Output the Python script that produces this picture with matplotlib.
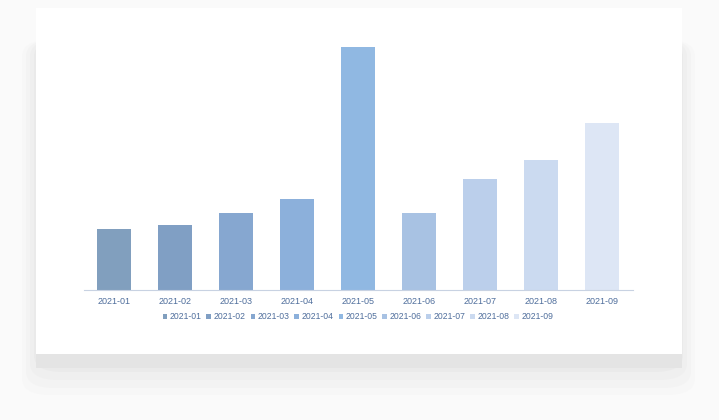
import matplotlib.pyplot as plt
from matplotlib.patches import FancyBboxPatch, Rectangle

plt.rcParams['font.family'] = ['Liberation Sans', 'DejaVu Sans']

months = ['2021-01', '2021-02', '2021-03', '2021-04', '2021-05',
          '2021-06', '2021-07', '2021-08', '2021-09']
values = [61, 65, 77, 91, 243, 77, 111, 130, 167]
colors = ['#819fbe', '#809fc4', '#86a7d0', '#8cb0db', '#90b8e2',
          '#a8c2e3', '#bbcfeb', '#cbdaf0', '#dde6f5']

W, H = 719, 420
fig = plt.figure(figsize=(W / 100, H / 100), dpi=100)
fig.patch.set_facecolor('#fafafa')

# soft shadow round the card
layers = [(22, 395, '#f7f7f7'), (26, 388, '#f3f3f3'), (30, 380, '#efefef'), (34, 372, '#eaeaea')]
for left, bottom, c in layers:
    fig.patches.append(FancyBboxPatch((left / W, 1 - bottom / H),
                                      (W - 2 * left - 2) / W, (bottom - 40) / H,
                                      boxstyle='round,pad=0,rounding_size=0.04',
                                      transform=fig.transFigure, facecolor=c,
                                      edgecolor='none', zorder=-3))
fig.patches.append(Rectangle((36 / W, 1 - 368 / H), 646 / W, 30 / H,
                             transform=fig.transFigure, facecolor='#e4e4e4',
                             edgecolor='none', zorder=-2))
# white card
fig.patches.append(Rectangle((36 / W, 1 - 354 / H), 646 / W, 346 / H,
                             transform=fig.transFigure, facecolor='white',
                             edgecolor='none', zorder=-1))

ax = fig.add_axes([83.5 / W, 1 - 290 / H, 549 / W, 250 / H])
ax.set_facecolor('none')
x = range(len(months))
bars = ax.bar(x, values, width=0.56, color=colors, edgecolor='none')
for b, m in zip(bars, months):
    b.set_label(m)

ax.set_xlim(-0.5, len(months) - 0.5)
ax.set_ylim(0, 250)
ax.set_xticks(list(x))
ax.set_xticklabels(months, fontsize=6.5, color='#4f6e9c')
ax.tick_params(axis='x', length=0, pad=5)
ax.set_yticks([])
for s in ['top', 'right', 'left']:
    ax.spines[s].set_visible(False)
ax.spines['bottom'].set_color('#c8d2e2')
ax.spines['bottom'].set_linewidth(0.8)

ax.legend(loc='upper center', bbox_to_anchor=(0.5, -0.058), ncol=9, frameon=False,
          fontsize=6.2, labelcolor='#4f6e9c', handlelength=0.5, handleheight=0.5,
          handletextpad=0.35, columnspacing=0.55)

fig.savefig('out.png', dpi=100, facecolor=fig.get_facecolor())
